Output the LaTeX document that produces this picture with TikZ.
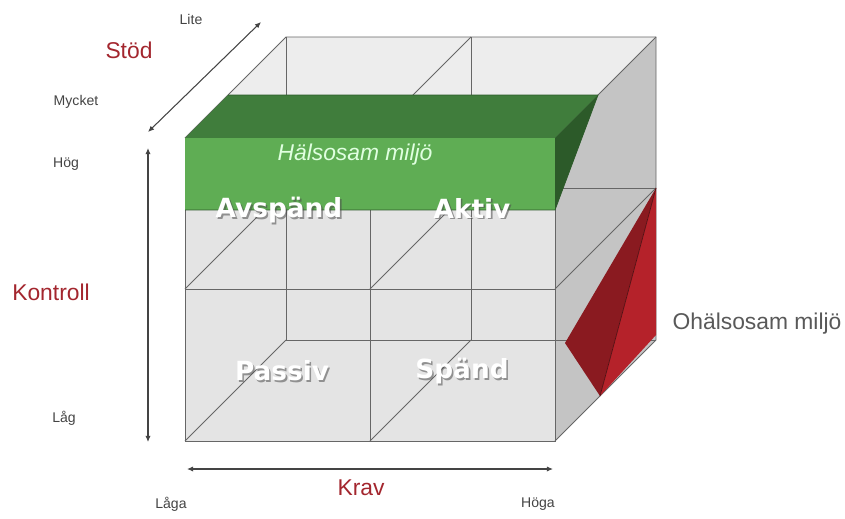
\documentclass[tikz,border=0pt]{standalone}
\usepackage{fontspec}
\setmainfont{Liberation Sans}
\newfontfamily\cellfont{DejaVu Sans}
\usepackage{xcolor}
\usetikzlibrary{arrows.meta, calc}

\definecolor{facefront}{HTML}{E4E4E4}
\definecolor{facetop}{HTML}{EDEDED}
\definecolor{faceside}{HTML}{C4C4C4}
\definecolor{gridline}{HTML}{666666}
\definecolor{greenfront}{HTML}{5FAD54}
\definecolor{greentop}{HTML}{407D3C}
\definecolor{greenside}{HTML}{2C5A29}
\definecolor{reddark}{HTML}{8A1A20}
\definecolor{redlight}{HTML}{B5222A}
\definecolor{axisred}{HTML}{A3262E}
\definecolor{axisgrey}{HTML}{444444}

\begin{document}
\begin{tikzpicture}[x=0.02cm, y=-0.02cm,
  grid/.style={draw=gridline, line width=0.45pt},
  axis/.style={draw=axisgrey, line width=0.6pt,
               {Latex[length=3.5pt,width=3pt]}-{Latex[length=3.5pt,width=3pt]}},
  axislabel/.style={text=axisred, font=\fontsize{13}{15}\selectfont},
  endlabel/.style={text=axisgrey, font=\fontsize{8}{10}\selectfont},
  cell/.style={text=white, font=\cellfont\bfseries\fontsize{15}{18}\selectfont},
  cellshadow/.style={text=black!70, opacity=0.55, font=\cellfont\bfseries\fontsize{15}{18}\selectfont},
]
\useasboundingbox (0,0) rectangle (845,518);

% ---- cube corners ----
\coordinate (ftl) at (185,138);
\coordinate (ftr) at (555,138);
\coordinate (fbr) at (555,441);
\coordinate (fbl) at (185,441);
\coordinate (btl) at (286,37);
\coordinate (btr) at (656,37);
\coordinate (bbr) at (656,340);
\coordinate (bbl) at (286,340);

% ---- faces ----
\fill[faceside] (ftr) -- (btr) -- (bbr) -- (fbr) -- cycle;
\fill[facetop] (ftl) -- (btl) -- (btr) -- (ftr) -- cycle;
\fill[facefront] (ftl) -- (ftr) -- (fbr) -- (fbl) -- cycle;

% ---- grid lines ----
\draw[grid] (btl) -- (bbl) -- (bbr);
\draw[grid] (471,37) -- (471,340);
\draw[grid] (286,188) -- (656,188);
\draw[grid] (fbl) -- (bbl);
\draw[grid] (370,441) -- (471,340);
\draw[grid] (185,289) -- (286,188);
\draw[grid] (370,289) -- (471,188);
\draw[grid] (555,289) -- (656,188);
\draw[grid] (370,138) -- (471,37);
\draw[grid] (ftl) -- (btl) -- (btr) -- (bbr) -- (fbr);
\draw[grid] (btr) -- (ftr);
\draw[grid] (370,138) -- (370,441);
\draw[grid] (185,289) -- (555,289);
\draw[grid] (ftl) -- (ftr) -- (fbr) -- (fbl) -- cycle;

% ---- Ohälsosam miljö (red wedge) ----
\coordinate (rtop) at (656,188);
\coordinate (rleft) at (565,343);
\coordinate (rbot) at (600,396);
\coordinate (rright) at (656,335);
\fill[reddark] (rtop) -- (rleft) -- (rbot) -- cycle;
\fill[redlight] (rtop) -- (rbot) -- (rright) -- cycle;
\draw[draw=reddark!60!black, line width=0.4pt] (rtop) -- (rbot);

% ---- Hälsosam miljö (green slab) ----
\coordinate (gtl) at (228,95);
\coordinate (gtr) at (598,95);
\coordinate (gbl) at (185,210);
\coordinate (gbr) at (555,210);
\fill[greentop] (ftl) -- (gtl) -- (gtr) -- (ftr) -- cycle;
\fill[greenside] (ftr) -- (gtr) -- (gbr) -- cycle;
\fill[greenfront] (ftl) -- (ftr) -- (gbr) -- (gbl) -- cycle;
\draw[draw=greenside, line width=0.4pt] (gtl) -- (gtr) -- (gbr) -- (gbl);
\node[text=white!88!green, font=\itshape\fontsize{13}{15}\selectfont] (halsosam) at (355,155) {Hälsosam miljö};

% ---- cell labels ----
\foreach \name/\txt/\px/\py in {avspand/Avspänd/279/210, aktiv/Aktiv/472/208,
                                passiv/Passiv/282/371, spand/Spänd/462/371} {
  \node[cellshadow] (\name-s) at (\px+1.6,\py+1.8) {\txt};
  \node[cell] (\name) at (\px,\py) {\txt};
}

% ---- axes ----
\coordinate (stodlo) at (148,132);
\coordinate (stodhi) at (261,22);
\coordinate (kontop) at (148,148);
\coordinate (konbot) at (148,442);
\coordinate (kravlo) at (187,469);
\coordinate (kravhi) at (553,469);
\draw[axis] (stodlo) -- (stodhi);
\draw[axis] (kontop) -- (konbot);
\draw[axis] (kravlo) -- (kravhi);

\node[axislabel] (stod) at (129,50) {Stöd};
\node[endlabel] (lite) at (191,19) {Lite};
\node[endlabel] (mycket) at (76,102) {Mycket};

\node[axislabel] (kontroll) at (51,292) {Kontroll};
\node[endlabel] (hog) at (66,164) {Hög};
\node[endlabel] (lag) at (64,418) {Låg};

\node[axislabel] (krav) at (361,488) {Krav};
\node[endlabel] (laga) at (171,504) {Låga};
\node[endlabel] (hoga) at (538,504) {Höga};

\node[text=black!65, font=\fontsize{13}{15}\selectfont] (ohalsosam) at (757,324) {Ohälsosam miljö};

\end{tikzpicture}
\end{document}
